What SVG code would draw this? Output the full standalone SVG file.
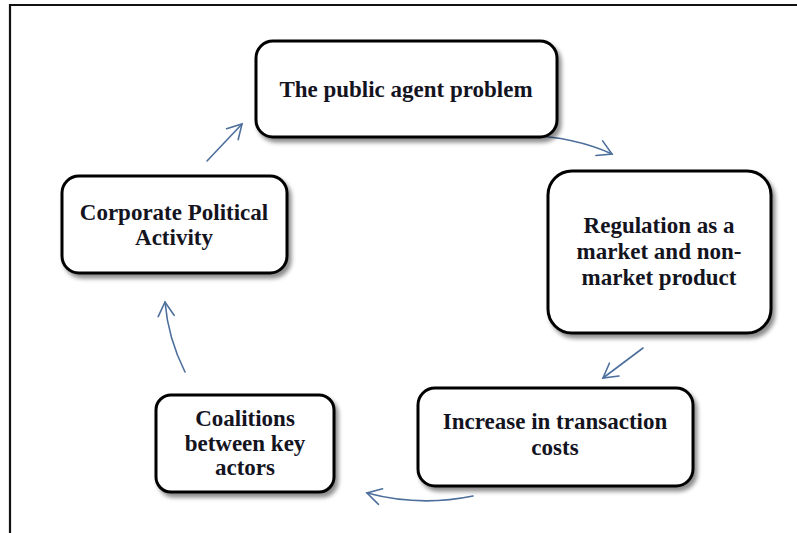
<svg xmlns="http://www.w3.org/2000/svg" width="797" height="533" viewBox="0 0 797 533">
  <defs>
    <filter id="shadow" x="-10%" y="-10%" width="130%" height="140%">
      <feDropShadow dx="3" dy="4" stdDeviation="2" flood-color="#000" flood-opacity="0.45"/>
    </filter>
    <marker id="arrow" viewBox="0 0 20 20" refX="18" refY="10" markerWidth="20" markerHeight="20" markerUnits="userSpaceOnUse" orient="auto">
      <path d="M4,2 L18,10 L4,18" fill="none" stroke="#4d6f9c" stroke-width="1.6" stroke-linecap="round" stroke-linejoin="miter"/>
    </marker>
  </defs>
  <style>
    .box { fill: #ffffff; stroke: #000000; stroke-width: 3; filter: url(#shadow); }
    .label { font-family: "Liberation Serif", "Times New Roman", serif; font-weight: bold; font-size: 23px; fill: #14141f; text-anchor: middle; }
    .conn { fill: none; stroke: #4d6f9c; stroke-width: 1.6; stroke-linecap: round; marker-end: url(#arrow); }
  </style>
  <rect width="797" height="533" fill="#ffffff"/>
  <g id="frame">
    <line x1="10" y1="5" x2="797" y2="5" stroke="#111" stroke-width="1.8"/>
    <line x1="10" y1="4" x2="10" y2="533" stroke="#111" stroke-width="2.2"/>
  </g>
  <g id="connectors">
    <path class="conn" d="M207,161 L242,124"/>
    <path class="conn" d="M525,135 Q575,137 612,154"/>
    <path class="conn" d="M643,348 L603,378"/>
    <path class="conn" d="M473,496 Q420,507 367,493"/>
    <path class="conn" d="M185,372 Q168,338 165,302"/>
  </g>
  <g id="node-public-agent">
    <rect class="box" x="256" y="41" width="301" height="96" rx="17"/>
    <text class="label" x="406" y="97">The public agent problem</text>
  </g>
  <g id="node-regulation">
    <rect class="box" x="548" y="171" width="223" height="162" rx="24"/>
    <text class="label" x="659" y="233">Regulation as a</text>
    <text class="label" x="659" y="259">market and non-</text>
    <text class="label" x="659" y="285">market product</text>
  </g>
  <g id="node-transaction">
    <rect class="box" x="418" y="388" width="275" height="98" rx="17"/>
    <text class="label" x="555" y="429">Increase in transaction</text>
    <text class="label" x="555" y="455">costs</text>
  </g>
  <g id="node-coalitions">
    <rect class="box" x="156" y="395" width="178" height="97" rx="15"/>
    <text class="label" x="245" y="426">Coalitions</text>
    <text class="label" x="245" y="451">between key</text>
    <text class="label" x="245" y="475">actors</text>
  </g>
  <g id="node-cpa">
    <rect class="box" x="62" y="176" width="225" height="97" rx="17"/>
    <text class="label" x="174" y="220">Corporate Political</text>
    <text class="label" x="174" y="245">Activity</text>
  </g>
</svg>
